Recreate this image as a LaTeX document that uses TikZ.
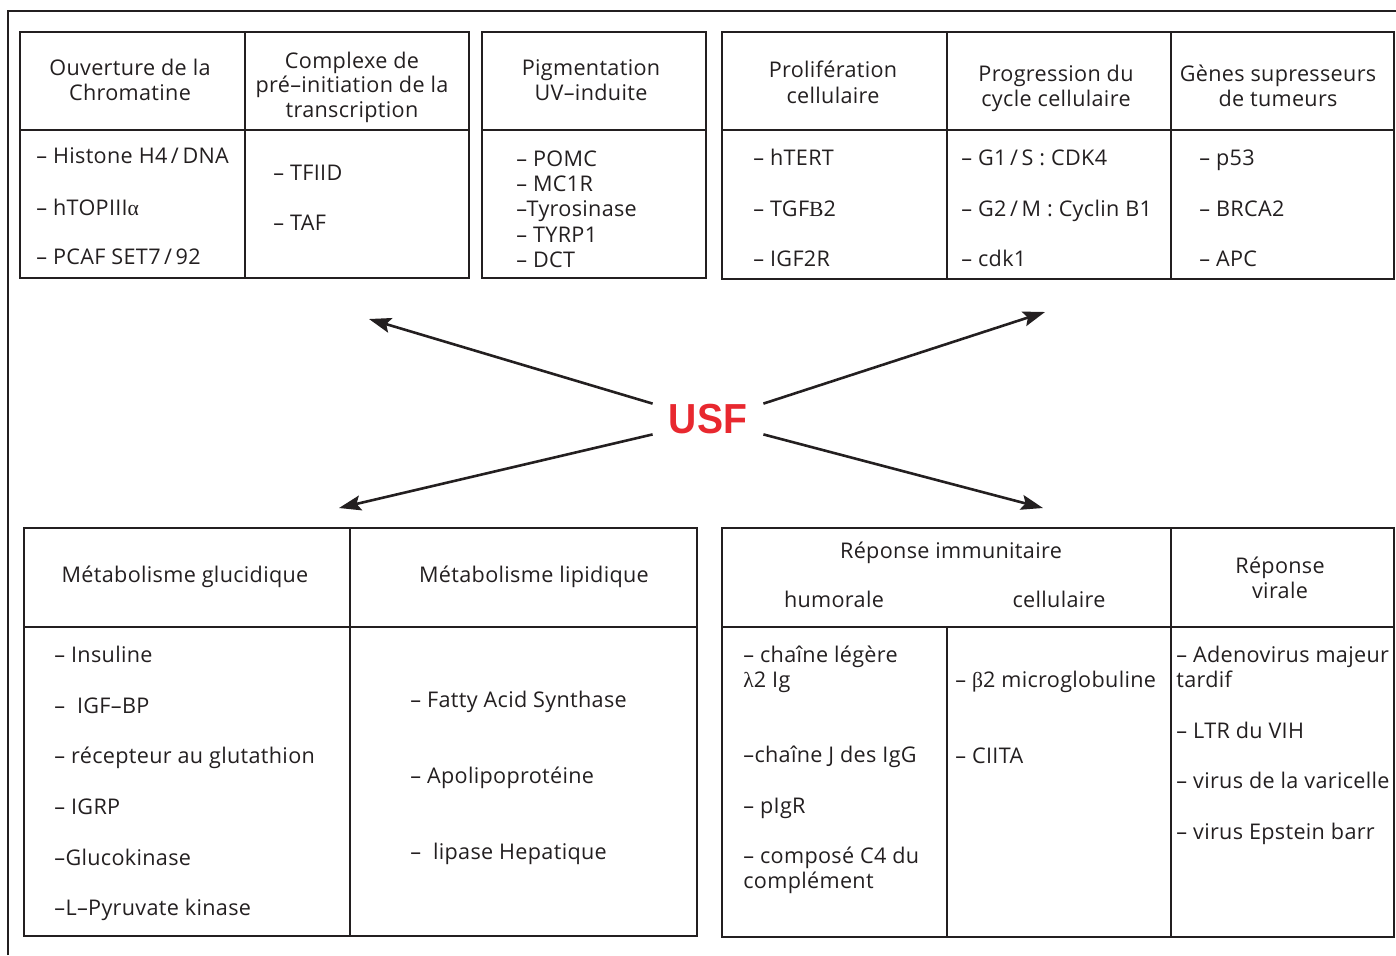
\documentclass[tikz,border=0pt]{standalone}
\usepackage{fontspec}
\setmainfont{Open Sans}[LetterSpace=1.5]
\newfontfamily\grk{Liberation Serif}
\newfontfamily\usffont[FakeStretch=0.93]{Liberation Sans}
\usetikzlibrary{arrows.meta}
\definecolor{usfred}{RGB}{232,40,47}
\definecolor{ink}{RGB}{35,31,32}
\newcommand{\mysz}{\fontsize{10.8}{13}\selectfont}
\tikzset{
  box/.style={draw=ink, line width=1.4pt},
  txt/.style={anchor=base west, inner sep=0pt, font=\mysz, text=ink},
  hd/.style={anchor=base, inner sep=0pt, font=\mysz, text=ink},
  conn/.style={draw=ink, line width=1.3pt, -{Stealth[length=11pt,width=7.5pt,inset=2pt]}},
}
\begin{document}
\begin{tikzpicture}[x=0.5pt,y=-0.5pt]
\useasboundingbox (0,0) rectangle (1396,955);
% outer frame
\draw[box] (8,955) -- (8,11) -- (1396,11);
% ---------- top tables ----------
\draw[box] (20,32) rectangle (469,278);
\draw[box] (20,130) -- (469,130);
\draw[box] (245,32) -- (245,278);
\draw[box] (482,32) rectangle (706,278);
\draw[box] (482,130) -- (706,130);
\draw[box] (722,32) rectangle (1394,279);
\draw[box] (722,130) -- (1394,130);
\draw[box] (947,32) -- (947,279);
\draw[box] (1171,32) -- (1171,279);
% ---------- bottom tables ----------
\draw[box] (24,528) rectangle (697,936);
\draw[box] (24,627) -- (697,627);
\draw[box] (350,528) -- (350,936);
\draw[box] (722,528) rectangle (1394,937);
\draw[box] (722,627) -- (1394,627);
\draw[box] (1171,528) -- (1171,937);
\draw[box] (947,627) -- (947,937);

% ---------- top texts ----------
\node[hd] (a1t1) at (130,75) {Ouverture de la};
\node[hd] (a1t2) at (130,100) {Chromatine};
\node[hd] (a2t1) at (352,68) {Complexe de};
\node[hd] (a2t2) at (352,92) {pré–initiation de la};
\node[hd] (a2t3) at (352,117) {transcription};
\node[txt] (a1i1) at (36,163) {– Histone H4\,/\,DNA};
\node[txt] (a1i2) at (36,215) {– hTOPIII{\grk α}};
\node[txt] (a1i3) at (36,264) {– PCAF SET7\,/\,92};
\node[txt] (a2i1) at (273,180) {– TFIID};
\node[txt] (a2i2) at (273,230) {– TAF};

\node[hd] (b1t1) at (591,75) {Pigmentation};
\node[hd] (b1t2) at (591,100) {UV–induite};
\node[txt] (b1i1) at (516,166) {– POMC};
\node[txt] (b1i2) at (516,191) {– MC1R};
\node[txt] (b1i3) at (516,216) {–Tyrosinase};
\node[txt] (b1i4) at (516,242) {– TYRP1};
\node[txt] (b1i5) at (516,267) {– DCT};

\node[hd] (c1t1) at (833,77) {Prolifération};
\node[hd] (c1t2) at (833,103) {cellulaire};
\node[hd] (c2t1) at (1056,81) {Progression du};
\node[hd] (c2t2) at (1056,106) {cycle cellulaire};
\node[hd] (c3t1) at (1278,81) {Gènes supresseurs};
\node[hd] (c3t2) at (1278,106) {de tumeurs};
\node[txt] (c1i1) at (753,165) {– hTERT};
\node[txt] (c1i2) at (753,216) {– TGF{\grk B}2};
\node[txt] (c1i3) at (753,266) {– IGF2R};
\node[txt] (c2i1) at (961,165) {– G1\,/\,S : CDK4};
\node[txt] (c2i2) at (961,216) {– G2\,/\,M : Cyclin B1};
\node[txt] (c2i3) at (961,266) {– cdk1};
\node[txt] (c3i1) at (1199,165) {– p53};
\node[txt] (c3i2) at (1199,216) {– BRCA2};
\node[txt] (c3i3) at (1199,266) {– APC};

% ---------- bottom texts ----------
\node[hd] (d1t1) at (185,582) {Métabolisme glucidique};
\node[hd] (d2t1) at (534,582) {Métabolisme lipidique};
\node[txt] (d1i1) at (54,662) {– Insuline};
\node[txt] (d1i2) at (54,713) {– \ IGF–BP};
\node[txt] (d1i3) at (54,763) {– récepteur au glutathion};
\node[txt] (d1i4) at (54,814) {– IGRP};
\node[txt] (d1i5) at (54,865) {–Glucokinase};
\node[txt] (d1i6) at (54,915) {–L–Pyruvate kinase};
\node[txt] (d2i1) at (410,707) {– Fatty Acid Synthase};
\node[txt] (d2i2) at (410,783) {– Apolipoprotéine};
\node[txt] (d2i3) at (410,859) {– \ lipase Hepatique};

\node[hd] (e1t1) at (951,558) {Réponse immunitaire};
\node[hd] (e1t2) at (834,607) {humorale};
\node[hd] (e1t3) at (1059,607) {cellulaire};
\node[hd] (e2t1) at (1280,573) {Réponse};
\node[hd] (e2t2) at (1280,598) {virale};
\node[txt] (e1i1) at (743,662) {– chaîne légère};
\node[txt] (e1i2) at (743,687) {{\grk λ}2 Ig};
\node[txt] (e1i3) at (743,762) {–chaîne J des IgG};
\node[txt] (e1i4) at (743,813) {– pIgR};
\node[txt] (e1i5) at (743,863) {– composé C4 du};
\node[txt] (e1i6) at (743,888) {complément};
\node[txt] (e2i1) at (955,687) {– {\grk β}2 microglobuline};
\node[txt] (e2i2) at (955,763) {– CIITA};
\node[txt] (e3i1) at (1176,662) {– Adenovirus majeur};
\node[txt] (e3i2) at (1176,687) {tardif};
\node[txt] (e3i3) at (1176,738) {– LTR du VIH};
\node[txt] (e3i4) at (1176,788) {– virus de la varicelle};
\node[txt] (e3i5) at (1176,839) {– virus Epstein barr};

% ---------- USF and arrows ----------
\node[font=\usffont\bfseries\fontsize{21}{21}\selectfont, text=usfred,
      minimum width=55pt, minimum height=15pt, inner sep=0pt] (usf) at (708,419) {USF};
\coordinate (ul) at (369,319);
\coordinate (ur) at (1045,312);
\coordinate (ll) at (339,508);
\coordinate (lr) at (1043,508);
\draw[conn] (usf.north west) -- (ul);
\draw[conn] (usf.north east) -- (ur);
\draw[conn] (usf.south west) -- (ll);
\draw[conn] (usf.south east) -- (lr);
\end{tikzpicture}
\end{document}
